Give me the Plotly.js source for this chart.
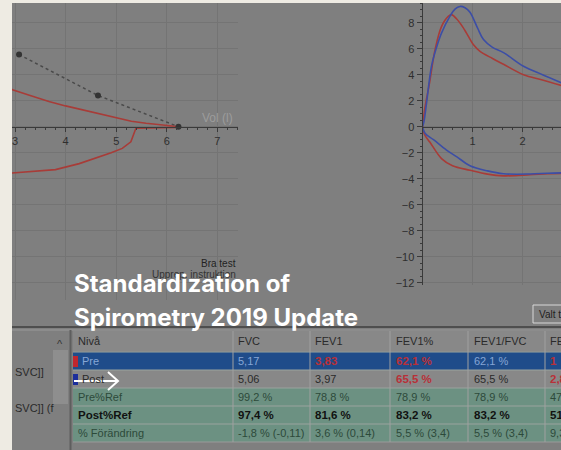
<!DOCTYPE html>
<html><head><meta charset="utf-8">
<script src="https://cdn.plot.ly/plotly-3.0.1.min.js"></script>
<style>html,body{margin:0;padding:0;background:#eeebe3;overflow:hidden}#c{width:561px;height:450px}</style>
</head><body><div id="c"></div><script>
// ---------- data ----------
// left panel: volume axis (l) vs flow
const leftUpperVol  = [2.80, 2.95, 3.30, 3.67, 4.00, 4.33, 4.70, 5.00, 5.30, 5.59, 5.90, 6.12, 6.25];
const leftUpperFlow = [3.15, 2.85, 2.40, 1.94, 1.60, 1.30, 0.95, 0.65, 0.42, 0.26, 0.12, 0.05, 0.00];
const leftLowerVol  = [6.20, 5.39, 5.29, 5.12, 4.90, 4.66, 4.27, 3.80, 3.40, 2.95, 2.80];
const leftLowerFlow = [-0.05, -0.12, -1.16, -1.67, -2.00, -2.33, -2.84, -3.30, -3.45, -3.57, -3.60];
const predVol  = [3.08, 4.64, 6.23];
const predFlow = [5.55, 2.40, 0.00];
const leftTicks = [3, 4, 5, 6, 7];
// right panel: flow-volume loops
const preExpVol   = [0, 0.05, 0.14, 0.25, 0.38, 0.52, 0.58, 0.68, 0.80, 0.88, 1.02, 1.15, 1.40, 1.62, 2.02, 2.40, 2.80];
const preExpFlow  = [0, 1.50, 3.35, 5.90, 7.70, 8.50, 8.62, 8.30, 7.70, 7.20, 6.30, 5.80, 5.25, 4.80, 4.00, 3.60, 3.15];
const postExpVol  = [0, 0.03, 0.08, 0.18, 0.28, 0.38, 0.55, 0.65, 0.75, 0.85, 0.95, 1.10, 1.22, 1.40, 1.62, 2.02, 2.40, 2.80];
const postExpFlow = [0, 0.40, 1.80, 4.65, 6.10, 7.20, 8.50, 9.05, 9.25, 9.15, 8.80, 7.60, 6.70, 6.10, 5.70, 4.65, 4.00, 3.35];
const preInsVol   = [0, 0.04, 0.15, 0.38, 0.60, 0.95, 1.30, 1.62, 2.15, 2.50, 2.80];
const preInsFlow  = [0, -0.60, -1.20, -2.45, -3.00, -3.35, -3.65, -3.78, -3.70, -3.62, -3.60];
const postInsVol  = [0, 0.05, 0.22, 0.48, 0.68, 0.95, 1.30, 1.62, 2.15, 2.50, 2.80];
const postInsFlow = [0, -0.50, -1.00, -1.80, -2.30, -3.00, -3.40, -3.62, -3.64, -3.58, -3.55];
const rightXTicks = [1, 2];
const rightYTicks = [-12, -10, -8, -6, -4, -2, 0, 2, 4, 6, 8];
// table
const tableHeader = ['Nivå', 'FVC', 'FEV1', 'FEV1%', 'FEV1/FVC', 'FE'];
const rowNames    = ['Pre', 'Post', 'Pre%Ref', 'Post%Ref', '% Förändring'];
const fvcVals     = ['5,17', '5,06', '99,2 %', '97,4 %', '-1,8 % (-0,11)'];
const fev1Vals    = ['3,83', '3,97', '78,8 %', '81,6 %', '3,6 % (0,14)'];
const fev1PctVals = ['62,1 %', '65,5 %', '78,9 %', '83,2 %', '5,5 % (3,4)'];
const fev1FvcVals = ['62,1 %', '65,5 %', '78,9 %', '83,2 %', '5,5 % (3,4)'];
const feVals      = ['1', '2,8', '47', '51', '9,3'];
const sideLabels  = ['SVC]]', 'SVC]] (f'];
const titleLines  = ['Standardization of', 'Spirometry 2019 Update'];

// ---------- helpers ----------
const W = 561, H = 450;
const px = x => x / W, py = y => 1 - y / H;
const RED = '#a83c38', BLUE = '#3c4ea6';
const GRID = '#747474', AX = '#3a3a3a', TXT = '#2e2e2e';
const FONT = 'Liberation Sans, Arial, sans-serif';

// ---------- traces ----------
const traces = [
  {x: leftUpperVol, y: leftUpperFlow, xaxis: 'x', yaxis: 'y', mode: 'lines', line: {color: RED, width: 1.6}},
  {x: leftLowerVol, y: leftLowerFlow, xaxis: 'x', yaxis: 'y', mode: 'lines', line: {color: RED, width: 1.6}},
  {x: predVol, y: predFlow, xaxis: 'x', yaxis: 'y', mode: 'lines+markers',
   line: {color: '#4a4a4a', width: 1.5, dash: 'dot'}, marker: {color: '#333', size: 6}},
  {x: preExpVol, y: preExpFlow, xaxis: 'x2', yaxis: 'y2', mode: 'lines', line: {color: RED, width: 1.6, shape: 'spline'}},
  {x: postExpVol, y: postExpFlow, xaxis: 'x2', yaxis: 'y2', mode: 'lines', line: {color: BLUE, width: 1.6, shape: 'spline'}},
  {x: preInsVol, y: preInsFlow, xaxis: 'x2', yaxis: 'y2', mode: 'lines', line: {color: RED, width: 1.6, shape: 'spline'}},
  {x: postInsVol, y: postInsFlow, xaxis: 'x2', yaxis: 'y2', mode: 'lines', line: {color: BLUE, width: 1.6, shape: 'spline'}}
];

// ---------- axes ----------
const y0px = 126.7, pxPerUnitY = 13.0;
const leftX0 = 15, leftPxPerX = 50.6;
const tickFont = {family: FONT, size: 11, color: TXT};
const layout = {
  width: W, height: H, margin: {l: 0, r: 0, t: 0, b: 0},
  paper_bgcolor: '#eeebe3', plot_bgcolor: 'rgba(0,0,0,0)', showlegend: false,
  xaxis: {domain: [px(12), px(238)], range: [3 + (12 - leftX0) / leftPxPerX, 3 + (238 - leftX0) / leftPxPerX],
    anchor: 'free', position: py(y0px), showline: true, linecolor: AX, linewidth: 1,
    tickvals: leftTicks, ticks: 'outside', ticklen: 4, tickcolor: AX, tickfont: tickFont,
    showgrid: true, gridcolor: GRID, zeroline: false,
    minor: {dtick: 0.2, ticks: 'outside', ticklen: 2, tickcolor: AX, showgrid: false}},
  yaxis: {domain: [py(300), py(3)], range: [(y0px - 300) / pxPerUnitY, (y0px - 3) / pxPerUnitY],
    anchor: 'x', showline: false, showticklabels: false, ticks: '', dtick: 2,
    showgrid: true, gridcolor: GRID, zeroline: false},
  xaxis2: {domain: [px(422.5), 1], range: [0, (561 - 422.5) / 50],
    anchor: 'free', position: py(y0px), showline: true, linecolor: AX, linewidth: 1,
    tickvals: rightXTicks, ticks: 'outside', ticklen: 4, tickcolor: AX, tickfont: tickFont,
    showgrid: true, gridcolor: GRID, zeroline: false,
    minor: {dtick: 0.2, ticks: 'outside', ticklen: 2, tickcolor: AX, showgrid: false}},
  yaxis2: {domain: [py(285), py(3)], range: [(y0px - 285) / pxPerUnitY, (y0px - 3) / pxPerUnitY],
    anchor: 'x2', showline: true, linecolor: AX, linewidth: 1,
    tickvals: rightYTicks, ticks: 'outside', ticklen: 5, tickcolor: AX, tickfont: tickFont,
    showgrid: true, gridcolor: GRID, zeroline: false,
    minor: {dtick: 0.5, ticks: 'outside', ticklen: 2, tickcolor: AX, showgrid: false}},
  shapes: [], annotations: []
};

const S = layout.shapes, A = layout.annotations;
const rect = (x0, y0, x1, y1, fill, layer, line) => S.push({type: 'rect', xref: 'paper', yref: 'paper',
  x0: px(x0), x1: px(x1), y0: py(y1), y1: py(y0), fillcolor: fill, layer: layer || 'below',
  line: line || {width: 0}});
const hline = (x0, x1, y, color, w, layer) => S.push({type: 'line', xref: 'paper', yref: 'paper',
  x0: px(x0), x1: px(x1), y0: py(y), y1: py(y), line: {color: color, width: w || 1}, layer: layer || 'below'});
const vline = (x, y0, y1, color, w, layer) => S.push({type: 'line', xref: 'paper', yref: 'paper',
  x0: px(x), x1: px(x), y0: py(y0), y1: py(y1), line: {color: color, width: w || 1}, layer: layer || 'below'});
const text = (t, x, y, opt) => A.push(Object.assign({text: t, xref: 'paper', yref: 'paper', x: px(x), y: py(y),
  xanchor: 'left', yanchor: 'middle', showarrow: false,
  font: {family: FONT, size: 11, color: TXT}}, opt || {}));

// screen background
rect(12, 3, 561, 450, '#7f7f7f');

// left chart texts
text('Vol (l)', 200, 118, {font: {family: FONT, size: 12, color: '#9c9c9c'}});
text('Bra test', 238, 263, {xanchor: 'right', font: {family: FONT, size: 10, color: '#222'}});
text('Upprep. instruktion', 238, 274, {xanchor: 'right', font: {family: FONT, size: 10, color: '#333'}});

// "Valt test" box
rect(533, 305, 575, 323, '#808080', 'below', {color: '#d8d8d8', width: 1});
text('Valt t', 537, 314, {font: {family: FONT, size: 10, color: '#1e1e1e'}});

// table frame
hline(12, 561, 327, '#4e4e4e', 2);
hline(12, 561, 330, '#9a9a9a', 1);
vline(70.5, 330, 450, '#5e5e5e', 2);
rect(73, 331, 561, 351, '#888888');
const rowTop = [352, 370, 388, 406, 424];
const rowH = 18;
const rowFill = ['#1f4c8a', '#888888', '#6c9182', '#6c9182', '#6c9182'];
rowTop.forEach((t, i) => rect(73, t, 561, t + rowH, rowFill[i]));
rowTop.forEach(t => hline(73, 561, t, '#9aa39e', 1));
hline(73, 561, 442, '#9a9a9a', 1);
const colX = [73, 233, 310, 390, 468, 545];
colX.slice(1).forEach(x => vline(x, 331, 442, '#a0a0a0', 1));
// scrollbar & side panel
rect(53, 350, 68, 404, '#8e8e8e');
text('^', 60, 344, {xanchor: 'center', font: {family: FONT, size: 11, color: '#333'}});
text(sideLabels[0], 13, 372, {font: {family: FONT, size: 11, color: '#2a2a2a'}});
text(sideLabels[1], 13, 408, {font: {family: FONT, size: 11, color: '#2a2a2a'}});
// row markers
rect(73, 356, 78, 367, '#c0262e');
rect(73, 374, 78, 385, '#1c2e9c');

// table text
const colTextX = [76, 236, 313, 394, 472, 548];
const rowY = rowTop.map(t => t + rowH / 2);
tableHeader.forEach((h, j) => text(h, colTextX[j], 341, {font: {family: FONT, size: 11, color: '#2a2a2a'}}));
const columns = [rowNames, fvcVals, fev1Vals, fev1PctVals, fev1FvcVals, feVals];
const LB = '#86a6d6', RD = '#b83038', DK = '#2a2a2a', GR = '#2c4a3a', BK = '#111';
const cellStyle = [
  [[LB, 0], [LB, 0], [RD, 1], [RD, 1], [LB, 0], [RD, 1]],
  [[DK, 0], [DK, 0], [DK, 0], [RD, 1], [DK, 0], [RD, 1]],
  [[GR, 0], [GR, 0], [GR, 0], [GR, 0], [GR, 0], [GR, 0]],
  [[BK, 1], [BK, 1], [BK, 1], [BK, 1], [BK, 1], [BK, 1]],
  [[GR, 0], [GR, 0], [GR, 0], [GR, 0], [GR, 0], [GR, 0]]
];
columns.forEach((col, j) => col.forEach((v, i) => {
  const st = cellStyle[i][j];
  const dx = (j === 0 && i < 2) ? 4 : 0;
  text(st[1] ? '<b>' + v + '</b>' : v, colTextX[j] + dx, rowY[i],
    {font: {family: FONT, size: st[1] ? 11.5 : 11, color: st[0]}});
}));

// white arrow over "Post"
S.push({type: 'path', xref: 'paper', yref: 'paper', layer: 'above',
  path: `M ${px(74)} ${py(381)} L ${px(118)} ${py(381)} M ${px(108)} ${py(372)} L ${px(118)} ${py(381)} L ${px(108)} ${py(390)}`,
  line: {color: '#ffffff', width: 2}});

// beige frame on top
rect(0, 0, 12, 450, '#eeebe3', 'above');
rect(0, 0, 561, 3, '#eeebe3', 'above');

// title overlay
const titleFont = {family: 'Inter, Roboto, sans-serif', size: 24, weight: 700, color: '#ffffff'};
text(titleLines[0], 72, 283, {font: titleFont});
text(titleLines[1], 72, 317, {font: titleFont});

Plotly.newPlot('c', traces, layout, {staticPlot: true, displayModeBar: false});
</script></body></html>
